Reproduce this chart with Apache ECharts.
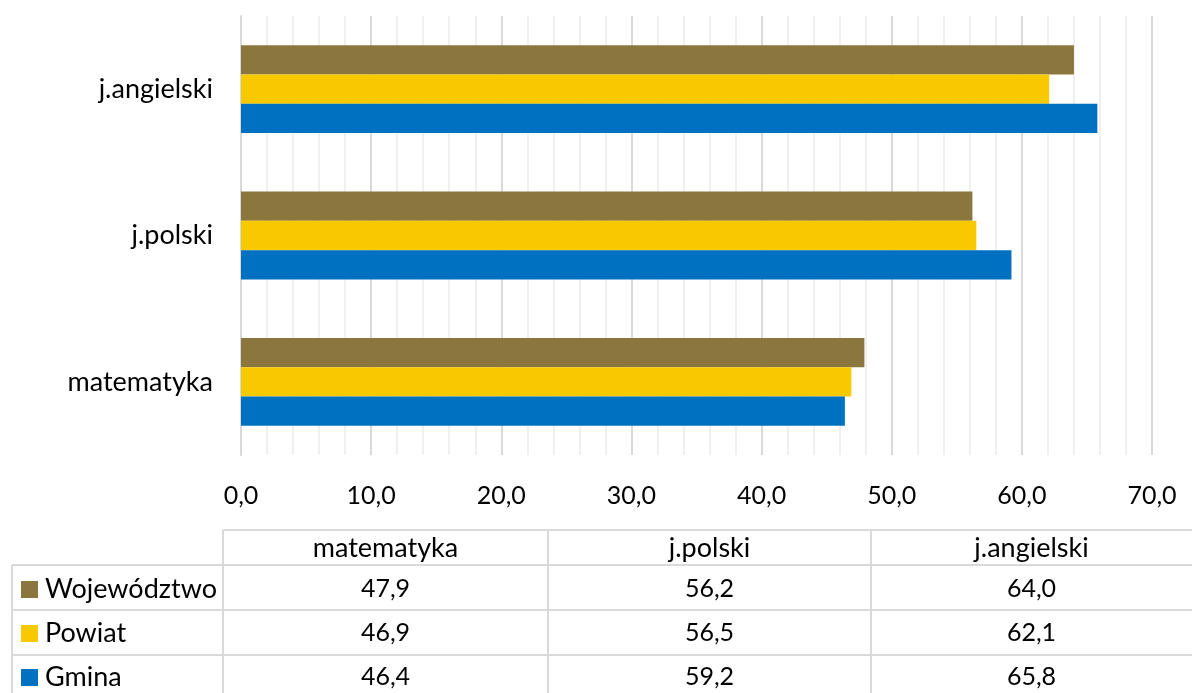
<!DOCTYPE html>
<html>
<head>
<meta charset="utf-8">
<script src="https://cdn.jsdelivr.net/npm/echarts@6/dist/echarts.min.js"></script>
<style>
  html, body { margin: 0; padding: 0; background: #fff; }
  #chart { width: 1192px; height: 693px; }
</style>
</head>
<body>
<div id="chart"></div>
<script>
// dane
const categories = ['matematyka', 'j.polski', 'j.angielski']
const seriesNames = ['Województwo', 'Powiat', 'Gmina']
const wojewodztwo = [47.9, 56.2, 64.0]
const powiat = [46.9, 56.5, 62.1]
const gmina = [46.4, 59.2, 65.8]
const colors = ['#8B763D', '#F9C900', '#0070C0']

const FONT = 'Lato'
const WORD_SIZE = 27
const NUM_SIZE = 25
const fmt = v => v.toFixed(1).replace('.', ',')

const chart = echarts.init(document.getElementById('chart'))

// tabela danych pod wykresem
const lineColor = '#d9d9d9'
const colX = [223, 548, 871, 1192]
const rowY = [530, 565, 610, 655, 700]
const tableLeft = 12
const values = [wojewodztwo, powiat, gmina]
const graphic = []

// linie poziome
graphic.push({ type: 'line', shape: { x1: colX[0], y1: rowY[0], x2: 1192, y2: rowY[0] }, style: { stroke: lineColor, lineWidth: 2 } })
for (let r = 1; r < 4; r++) {
  graphic.push({ type: 'line', shape: { x1: tableLeft, y1: rowY[r], x2: 1192, y2: rowY[r] }, style: { stroke: lineColor, lineWidth: 2 } })
}
// linie pionowe
graphic.push({ type: 'line', shape: { x1: tableLeft, y1: rowY[1], x2: tableLeft, y2: 693 }, style: { stroke: lineColor, lineWidth: 2 } })
for (let c = 0; c < 3; c++) {
  graphic.push({ type: 'line', shape: { x1: colX[c], y1: rowY[0], x2: colX[c], y2: 693 }, style: { stroke: lineColor, lineWidth: 2 } })
}
// naglowki kolumn
categories.forEach((cat, i) => {
  graphic.push({
    type: 'text', x: (colX[i] + colX[i + 1]) / 2, y: (rowY[0] + rowY[1]) / 2 + 1,
    style: { text: cat, fill: '#000', font: WORD_SIZE + 'px ' + FONT, align: 'center', verticalAlign: 'middle' }
  })
})
// wiersze
seriesNames.forEach((name, r) => {
  const cy = [589, 633, 677][r]
  graphic.push({ type: 'rect', shape: { x: 21, y: cy - 8, width: 17, height: 17 }, style: { fill: colors[r] } })
  graphic.push({
    type: 'text', x: 45, y: cy,
    style: { text: name, fill: '#000', font: WORD_SIZE + 'px ' + FONT, align: 'left', verticalAlign: 'middle' }
  })
  values[r].forEach((v, i) => {
    graphic.push({
      type: 'text', x: (colX[i] + colX[i + 1]) / 2, y: cy,
      style: { text: fmt(v), fill: '#000', font: NUM_SIZE + 'px ' + FONT, align: 'center', verticalAlign: 'middle' }
    })
  })
})

const option = {
  animation: false,
  textStyle: { fontFamily: FONT },
  grid: { left: 241, right: 40, top: 16, bottom: 238, containLabel: false },
  xAxis: {
    type: 'value',
    min: 0,
    max: 70,
    interval: 10,
    axisLine: { show: false },
    axisTick: { show: false },
    axisLabel: { formatter: v => fmt(v), color: '#000', fontSize: NUM_SIZE, fontFamily: FONT, margin: 28 },
    splitLine: { show: true, lineStyle: { color: '#d9d9d9', width: 2 } },
    minorTick: { show: false, splitNumber: 5 },
    minorSplitLine: { show: true, lineStyle: { color: '#f0f0f0', width: 2 } }
  },
  yAxis: {
    type: 'category',
    data: categories,
    axisLine: { show: true, lineStyle: { color: '#d9d9d9', width: 2 } },
    axisTick: { show: false },
    axisLabel: { color: '#000', fontSize: WORD_SIZE, fontFamily: FONT, margin: 28 }
  },
  series: [
    { name: seriesNames[0], type: 'bar', data: wojewodztwo, itemStyle: { color: colors[0] }, barGap: 0, barCategoryGap: '40%' },
    { name: seriesNames[1], type: 'bar', data: powiat, itemStyle: { color: colors[1] }, barGap: 0, barCategoryGap: '40%' },
    { name: seriesNames[2], type: 'bar', data: gmina, itemStyle: { color: colors[2] }, barGap: 0, barCategoryGap: '40%' }
  ],
  graphic: graphic
}

chart.setOption(option)
</script>
</body>
</html>
